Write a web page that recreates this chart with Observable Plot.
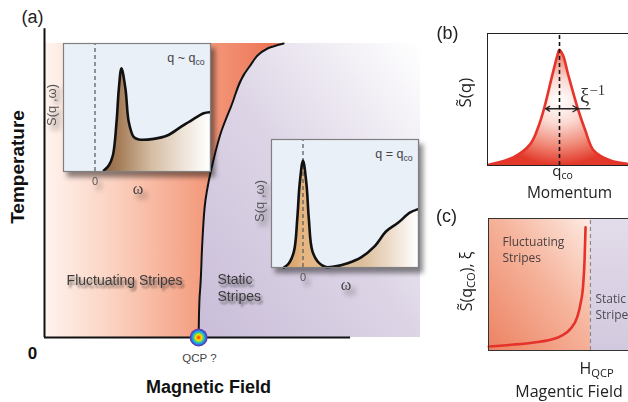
<!DOCTYPE html>
<html>
<head>
<meta charset="utf-8">
<script src="https://cdn.jsdelivr.net/npm/d3@7"></script>
<script src="https://cdn.jsdelivr.net/npm/@observablehq/plot@0.6"></script>
<style>
  html, body { margin: 0; padding: 0; background: #fff; }
  #fig { position: relative; width: 628px; height: 402px; overflow: hidden; background: #fff; }
  #fig svg { position: absolute; }
  #fig svg.inset { filter: drop-shadow(4px 5px 2.5px rgba(0, 0, 0, 0.45)); }
</style>
</head>
<body>
<div id="fig"></div>
<script>
// ---------- Panel (a): stripe phase diagram (field and temperature in plot units) ----------
const boundaryField = [0.410, 0.412, 0.415, 0.420, 0.428, 0.449, 0.471, 0.495, 0.543, 0.593, 0.636];
const boundaryTemp  = [0.000, 0.126, 0.184, 0.330, 0.466, 0.602, 0.704, 0.782, 0.918, 0.983, 1.000];
const fieldAxis = [0, 0.814];
const tempAxis = [0, 1.05];

// ---------- Insets: spectral function S(q, ω) ----------
const nearOmega = [0.084, 0.131, 0.170, 0.205, 0.227, 0.252, 0.290, 0.322, 0.370, 0.417, 0.560, 0.688, 0.814, 0.941, 1.036, 1.090];
const nearS     = [0.008, 0.047, 0.125, 0.385, 0.646, 0.807, 0.646, 0.385, 0.268, 0.250, 0.255, 0.281, 0.346, 0.412, 0.455, 0.463];
const atOmega = [-0.182, -0.134, -0.086, -0.054, -0.032, 0.000, 0.033, 0.055, 0.090, 0.154, 0.218, 0.297, 0.426, 0.553, 0.681, 0.793, 0.905, 1.017, 1.090];
const atS     = [0.000, 0.034, 0.126, 0.388, 0.651, 0.835, 0.651, 0.388, 0.126, 0.034, 0.004, 0.008, 0.034, 0.079, 0.165, 0.283, 0.349, 0.428, 0.454];

// ---------- Panel (b): structure factor vs momentum ----------
const peakQ = [-0.982, -0.635, -0.403, -0.280, -0.215, -0.100, -0.032, 0.000, 0.050, 0.118, 0.255, 0.360, 0.476, 0.708, 0.940];
const peakS = [0.006, 0.072, 0.187, 0.359, 0.490, 0.780, 0.945, 1.000, 0.950, 0.790, 0.490, 0.300, 0.129, 0.043, 0.015];
const halfWidth = [-0.194, 0.260];   // ends of the ξ⁻¹ width marker
const widthLevel = 0.49;
const widthTail = 0.43;

// ---------- Panel (c): peak intensity / correlation length vs field ----------
const corrField = [0.002, 0.176, 0.315, 0.431, 0.512, 0.569, 0.616, 0.639, 0.658, 0.667, 0.674];
const corrValue = [0.030, 0.045, 0.061, 0.081, 0.114, 0.164, 0.252, 0.354, 0.505, 0.682, 0.934];
const hQCP = 0.708;

const zip = (xs, ys, kx, ky) => xs.map((v, i) => ({[kx]: v, [ky]: ys[i]}));
const boundary = zip(boundaryField, boundaryTemp, "H", "T");
const nearSpec = zip(nearOmega, nearS, "w", "S");
const atSpec = zip(atOmega, atS, "w", "S");
const peak = zip(peakQ, peakS, "q", "S");
const corr = zip(corrField, corrValue, "H", "v");
const qcp = [boundary[0]];

const fig = document.getElementById("fig");
const SVGNS = "http://www.w3.org/2000/svg";
const sans = "Liberation Sans, Arial, sans-serif";
const humanist = "Open Sans, Noto Sans, sans-serif";
const serif = "Liberation Serif, DejaVu Serif, serif";
const clear = {background: "transparent", overflow: "visible"};

function place(svg, left, top, cls) {
  svg.style.left = left + "px";
  svg.style.top = top + "px";
  if (cls) svg.classList.add(cls);
  fig.appendChild(svg);
  return svg;
}
function addDefs(svg, markup) {
  const defs = document.createElementNS(SVGNS, "defs");
  defs.innerHTML = markup;
  svg.insertBefore(defs, svg.firstChild);
}
// turns "_{...}" and "^{...}" in text labels into sub/superscript tspans
function richText(svg) {
  svg.querySelectorAll("text").forEach(t => {
    const s = t.textContent;
    if (!/[_^]\{/.test(s)) return;
    t.textContent = "";
    const re = /([_^])\{([^}]*)\}/g;
    let last = 0, m;
    const add = (str) => { const ts = document.createElementNS(SVGNS, "tspan"); ts.textContent = str; t.appendChild(ts); return ts; };
    while ((m = re.exec(s))) {
      if (m.index > last) add(s.slice(last, m.index));
      const ts = add(m[2]);
      ts.setAttribute("font-size", "70%");
      ts.setAttribute("baseline-shift", m[1] === "_" ? "-30%" : "55%");
      last = re.lastIndex;
    }
    if (last < s.length) add(s.slice(last));
  });
}
const label = (text, x, y, o = {}) => Plot.text([{text, x, y}], {x: "x", y: "y", text: "text", ...o});

// ---------- Panel (a) ----------
const mainPlot = Plot.plot({
  width: 628, height: 402,
  marginLeft: 44, marginRight: 208, marginTop: 43, marginBottom: 65,
  x: {domain: [0, 1], axis: null},
  y: {domain: [0, 1], axis: null},
  style: clear,
  marks: [
    Plot.areaX(boundary, {y: "T", x1: 0, x2: "H", curve: "monotone-y", fill: "url(#fluctFill)"}),
    Plot.areaX(boundary, {y: "T", x1: "H", x2: 1, curve: "monotone-y", fill: "url(#staticFill)"}),
    Plot.line(boundary, {x: "H", y: "T", curve: "monotone-y", stroke: "#111", strokeWidth: 2}),
    Plot.ruleX([fieldAxis[0]], {y1: tempAxis[0], y2: tempAxis[1], stroke: "#111", strokeWidth: 2}),
    Plot.ruleY([tempAxis[0]], {x1: fieldAxis[0], x2: fieldAxis[1], stroke: "#111", strokeWidth: 2}),
    Plot.dot(qcp, {x: "H", y: "T", r: 9, fill: "url(#qcpGlow)", stroke: "none"}),
    label("(a)", -0.032, 1.090, {fontSize: 18, fontFamily: sans, fill: "#222"}),
    label("Temperature", -0.0705, 0.580, {rotate: -90, fontSize: 19, fontWeight: "bold", fontFamily: sans, fill: "#111"}),
    label("0", -0.032, -0.054, {fontSize: 17, fontWeight: "bold", fontFamily: sans, fill: "#111"}),
    label("QCP ?", 0.412, -0.071, {fontSize: 11.5, fontFamily: sans, fill: "#444"}),
    label("Magnetic Field", 0.436, -0.170, {fontSize: 18, fontWeight: "bold", fontFamily: sans, fill: "#111"}),
    label("Fluctuating Stripes", 0.213, 0.194, {fontSize: 14, fontFamily: sans, fill: "#3b3b3b"}),
    label("Static", 0.460, 0.197, {fontSize: 14, fontFamily: sans, fill: "#3b3b3b", textAnchor: "start"}),
    label("Stripes", 0.460, 0.139, {fontSize: 14, fontFamily: sans, fill: "#3b3b3b", textAnchor: "start"})
  ]
});
addDefs(mainPlot, `
  <linearGradient id="fluctFill" x1="0" y1="0" x2="1" y2="0">
    <stop offset="0" stop-color="#fff4ef"/>
    <stop offset="0.3" stop-color="#fbd0be"/>
    <stop offset="0.64" stop-color="#f49f82"/>
    <stop offset="1" stop-color="#ec6f50"/>
  </linearGradient>
  <linearGradient id="staticFill" x1="0" y1="1" x2="1" y2="0">
    <stop offset="0" stop-color="#c9bdd8"/>
    <stop offset="0.5" stop-color="#ddd5e6"/>
    <stop offset="1" stop-color="#ffffff"/>
  </linearGradient>
  <radialGradient id="qcpGlow">
    <stop offset="0" stop-color="#ff2a00"/>
    <stop offset="0.2" stop-color="#ff9a00"/>
    <stop offset="0.35" stop-color="#f2e400"/>
    <stop offset="0.5" stop-color="#5fd35a"/>
    <stop offset="0.65" stop-color="#19b0e6"/>
    <stop offset="0.8" stop-color="#2f6bd6"/>
    <stop offset="0.92" stop-color="#5a3cb0"/>
    <stop offset="1" stop-color="#6a2c98"/>
  </radialGradient>
  <filter id="labelShadow" x="-20%" y="-60%" width="140%" height="220%">
    <feDropShadow dx="2" dy="3" stdDeviation="1.3" flood-color="#000" flood-opacity="0.5"/>
  </filter>`);
mainPlot.querySelectorAll('[fill="#3b3b3b"]').forEach(e => e.setAttribute("filter", "url(#labelShadow)"));
place(mainPlot, 0, 0);

// ---------- Insets of panel (a) ----------
function spectrum(data, gradId, stops, tag) {
  const svg = Plot.plot({
    width: 178, height: 160,
    marginLeft: 23, marginRight: 8, marginTop: 5, marginBottom: 27,
    x: {domain: [-0.3, 1.1], axis: null},
    y: {domain: [0, 1], axis: null},
    style: clear,
    marks: [
      Plot.frame({fill: "#e9f0f8", stroke: "none"}),
      Plot.areaY(data, {x: "w", y: "S", curve: "catmull-rom", fill: `url(#${gradId})`}),
      Plot.ruleX([0], {y1: 0, y2: 1, stroke: "#555", strokeWidth: 1.2, strokeDasharray: "4,3"}),
      Plot.line(data, {x: "w", y: "S", curve: "catmull-rom", stroke: "#111", strokeWidth: 2.6}),
      Plot.frame({stroke: "#808080", strokeWidth: 1.2}),
      label(tag, 1.045, 0.883, {fontSize: 12.5, fontFamily: sans, fill: "#444", textAnchor: "end"}),
      label("0", 0, -0.078, {fontSize: 11, fontFamily: sans, fill: "#555"}),
      label("ω", 0.41, -0.133, {fontSize: 16, fontFamily: serif, fill: "#444"}),
      label("S(q ,ω)", -0.41, 0.52, {rotate: -90, fontSize: 13, fontFamily: sans, fill: "#555"})
    ]
  });
  addDefs(svg, `<linearGradient id="${gradId}" x1="0" y1="0" x2="1" y2="0">${stops}</linearGradient>`);
  richText(svg);
  return svg;
}
place(spectrum(nearSpec, "nearFill",
  `<stop offset="0" stop-color="#8f6642"/><stop offset="0.15" stop-color="#a57d58"/>
   <stop offset="0.45" stop-color="#d4bca2"/><stop offset="0.77" stop-color="#efe5da"/><stop offset="1" stop-color="#ffffff"/>`,
  "q ~ q_{co}"), 40, 38, "inset");
place(spectrum(atSpec, "atFill",
  `<stop offset="0" stop-color="#d49a5e"/><stop offset="0.15" stop-color="#e6b682"/>
   <stop offset="0.6" stop-color="#dcbf9e"/><stop offset="0.8" stop-color="#eddccb"/><stop offset="1" stop-color="#ffffff"/>`,
  "q = q_{co}"), 248, 134, "inset");

// ---------- Panel (b) ----------
const panelB = Plot.plot({
  width: 212, height: 200,
  marginLeft: 67, marginRight: 1, marginTop: 33, marginBottom: 35,
  x: {domain: [-1, 1], axis: null},
  y: {domain: [0, 1.14], axis: null},
  style: clear,
  marks: [
    Plot.areaY(peak, {x: "q", y: "S", curve: "catmull-rom", fill: "url(#peakFill)"}),
    Plot.line(peak, {x: "q", y: "S", curve: "catmull-rom", stroke: "#e5352b", strokeWidth: 2.6}),
    Plot.ruleX([0], {y1: 0, y2: 1.14, stroke: "#111", strokeWidth: 1.6, strokeDasharray: "4,3"}),
    Plot.ruleX([-1], {y1: 0, y2: 1.14, stroke: "#222", strokeWidth: 1}),
    Plot.ruleY([0, 1.14], {x1: -1, x2: 1, stroke: "#222", strokeWidth: 1}),
    Plot.link([{a: halfWidth[1], b: widthTail}], {x1: "a", x2: "b", y1: widthLevel, y2: widthLevel, stroke: "#222", strokeWidth: 1.3}),
    Plot.arrow(halfWidth, {x1: 0, x2: d => d, y1: widthLevel, y2: widthLevel, stroke: "#222", strokeWidth: 1.3, headLength: 7}),
    label("(b)", -1.556, 1.138, {fontSize: 18, fontFamily: sans, fill: "#222"}),
    label("S̃(q)", -1.306, 0.629, {rotate: -90, fontSize: 17, fontFamily: humanist, fill: "#222"}),
    label("ξ^{−1}", 0.285, 0.60, {fontSize: 21, fontFamily: serif, fill: "#333", textAnchor: "start"}),
    label("q_{co}", 0.042, -0.050, {fontSize: 15, fontFamily: humanist, fill: "#222"}),
    label("Momentum", 0.139, -0.240, {fontSize: 15.5, fontFamily: humanist, fill: "#222"})
  ]
});
addDefs(panelB, `
  <radialGradient id="peakFill" cx="0.51" cy="0.45" r="0.55">
    <stop offset="0" stop-color="#ffffff"/>
    <stop offset="0.35" stop-color="#fbd9d2"/>
    <stop offset="0.7" stop-color="#f08a78"/>
    <stop offset="1" stop-color="#e2392a"/>
  </radialGradient>`);
richText(panelB);
place(panelB, 420, 0);

// ---------- Panel (c) ----------
const panelC = Plot.plot({
  width: 212, height: 202,
  marginLeft: 68, marginRight: 0, marginTop: 18, marginBottom: 52,
  x: {domain: [0, 1], axis: null},
  y: {domain: [0, 1], axis: null},
  style: clear,
  marks: [
    Plot.rect([hQCP], {x1: 0, x2: d => d, y1: 0, y2: 1, fill: "url(#cFluct)"}),
    Plot.rect([hQCP], {x1: d => d, x2: 1, y1: 0, y2: 1, fill: "url(#cStatic)"}),
    Plot.ruleX([hQCP], {y1: 0, y2: 1, stroke: "#8a8a8a", strokeWidth: 1.2, strokeDasharray: "4,3"}),
    Plot.line(corr, {x: "H", y: "v", curve: "monotone-x", stroke: "#e5322a", strokeWidth: 2.6}),
    Plot.ruleX([0], {y1: 0, y2: 1, stroke: "#333", strokeWidth: 1}),
    Plot.ruleY([0, 1], {x1: 0, x2: 1, stroke: "#333", strokeWidth: 1}),
    label("(c)", -0.292, 1.015, {fontSize: 18, fontFamily: sans, fill: "#222"}),
    label("S̃(q_{CO}), ξ", -0.153, 0.523, {rotate: -90, fontSize: 16, fontFamily: humanist, fill: "#222"}),
    label("Fluctuating", 0.097, 0.818, {fontSize: 12, fontFamily: humanist, fill: "#4a4040", textAnchor: "start"}),
    label("Stripes", 0.097, 0.700, {fontSize: 12, fontFamily: humanist, fill: "#4a4040", textAnchor: "start"}),
    label("Static", 0.743, 0.386, {fontSize: 12, fontFamily: humanist, fill: "#4a4a55", textAnchor: "start"}),
    label("Stripes", 0.743, 0.265, {fontSize: 12, fontFamily: humanist, fill: "#4a4a55", textAnchor: "start"}),
    label("H_{QCP}", 0.632, -0.136, {fontSize: 16, fontFamily: humanist, fill: "#222", textAnchor: "start"}),
    label("Magentic Field", 0.559, -0.311, {fontSize: 16, fontFamily: humanist, fill: "#222"})
  ]
});
addDefs(panelC, `
  <linearGradient id="cFluct" x1="0" y1="1" x2="1" y2="0">
    <stop offset="0" stop-color="#ec8262"/>
    <stop offset="0.55" stop-color="#f6b49c"/>
    <stop offset="1" stop-color="#fdebe3"/>
  </linearGradient>
  <linearGradient id="cStatic" x1="0" y1="1" x2="0" y2="0">
    <stop offset="0" stop-color="#d2c9de"/>
    <stop offset="1" stop-color="#e3dcea"/>
  </linearGradient>`);
richText(panelC);
place(panelC, 420, 200);
</script>
</body>
</html>
